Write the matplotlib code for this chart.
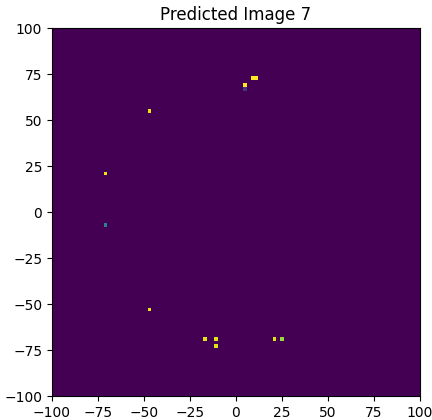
import numpy as np
import matplotlib
matplotlib.use("Agg")
import matplotlib.pyplot as plt

title = "Predicted Image 7"
extent = [-100, 100, -100, 100]
cell = 2  # grid cell size in data units

# lit cells (centre coordinates) and their intensity
point_x = [-47, -71, -71, -47, 9, 11, 5, 5, -17, -11, -11, 21, 25]
point_y = [55, 21, -7, -53, 73, 73, 69, 67, -69, -69, -73, -69, -69]
point_val = [0.97, 0.97, 0.45, 0.97, 1.0, 1.0, 1.0, 0.15, 0.95, 0.95, 0.95, 0.95, 0.85]

n = int((extent[1] - extent[0]) / cell)
grid = np.zeros((n, n))
for x, y, v in zip(point_x, point_y, point_val):
    i = int((x - extent[0]) // cell)
    j = int((y - extent[2]) // cell)
    grid[j, i] = v

fig = plt.figure(figsize=(4.32, 4.2), dpi=100)
ax = fig.add_axes([0.120, 0.057, 0.852, 0.876])
ax.imshow(grid, cmap="viridis", origin="lower", extent=extent, vmin=0, vmax=1,
          interpolation="nearest")
ax.set_title(title, fontsize=12)
ax.set_xticks(np.arange(-100, 101, 25))
ax.set_yticks(np.arange(-100, 101, 25))
ax.tick_params(labelsize=10)
fig.savefig("out.png", dpi=100)
